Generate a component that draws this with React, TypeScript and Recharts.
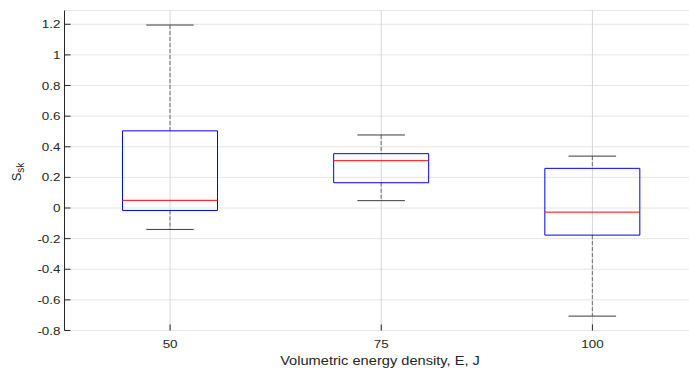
import { ComposedChart, Bar, XAxis, YAxis, CartesianGrid } from 'recharts'

const categories = ['50', '75', '100']
const whiskerLow = [-0.14, 0.048, -0.706]
const q1 = [-0.016, 0.165, -0.177]
const median = [0.05, 0.309, -0.027]
const q3 = [0.504, 0.355, 0.259]
const whiskerHigh = [1.195, 0.477, 0.339]
const yTicks = [-0.8, -0.6, -0.4, -0.2, 0, 0.2, 0.4, 0.6, 0.8, 1, 1.2]

const data = categories.map((name, i) => ({
  name,
  lowerWhisker: [whiskerLow[i], q1[i]],
  lowerBox: [q1[i], median[i]],
  upperBox: [median[i], q3[i]],
  upperWhisker: [q3[i], whiskerHigh[i]],
}))

const font = "'Liberation Sans', Arial, Helvetica, sans-serif"
const ink = '#262626'
const whiskerInk = '#6e6e6e'
const capInk = '#3c3c3c'

const PLOT_TOP = 10.5
const PLOT_BOTTOM = 330.5

// pixel extent of a ranged bar, whichever way round recharts hands it over
const span = (p: any) => {
  const top = Math.min(p.y, p.y + p.height)
  const bottom = Math.max(p.y, p.y + p.height)
  return { left: p.x, right: p.x + p.width, cx: p.x + p.width / 2, top, bottom, w: p.width }
}

const LowerWhisker = (p: any) => {
  const s = span(p)
  return (
    <g>
      <line x1={s.cx} x2={s.cx} y1={s.top} y2={s.bottom} stroke={whiskerInk} strokeDasharray="4 2" />
      <line x1={s.cx - s.w / 4} x2={s.cx + s.w / 4} y1={s.bottom} y2={s.bottom} stroke={capInk} />
    </g>
  )
}

const UpperWhisker = (p: any) => {
  const s = span(p)
  return (
    <g>
      <line x1={s.cx} x2={s.cx} y1={s.top} y2={s.bottom} stroke={whiskerInk} strokeDasharray="4 2" />
      <line x1={s.cx - s.w / 4} x2={s.cx + s.w / 4} y1={s.top} y2={s.top} stroke={capInk} />
    </g>
  )
}

// lower half of the box: sides + bottom in blue, median on top in red
const LowerBox = (p: any) => {
  const s = span(p)
  return (
    <g>
      <path d={`M${s.left},${s.top}V${s.bottom}H${s.right}V${s.top}`} fill="none" stroke="#0000ff" />
      <line x1={s.left} x2={s.right} y1={s.top} y2={s.top} stroke="#ff0000" />
    </g>
  )
}

const UpperBox = (p: any) => {
  const s = span(p)
  return <path d={`M${s.left},${s.bottom}V${s.top}H${s.right}V${s.bottom}`} fill="none" stroke="#0000ff" />
}

// inward ticks drawn by hand, label below the axis
const XTick = (props: any) => {
  const { x, payload } = props
  return (
    <g>
      <line x1={x} x2={x} y1={PLOT_BOTTOM} y2={PLOT_BOTTOM - 6} stroke={ink} />
      <text transform={`translate(${x},${PLOT_BOTTOM + 17.5}) scale(1.22,1)`} textAnchor="middle" fill={ink} fontSize={11} fontFamily={font}>
        {payload.value}
      </text>
    </g>
  )
}

const TopTick = (props: any) => {
  const { x } = props
  return <line x1={x} x2={x} y1={PLOT_TOP} y2={PLOT_TOP + 6} stroke={ink} />
}

const YTick = (props: any) => {
  const { x, y, payload } = props
  return (
    <g>
      <line x1={x} x2={x + 6} y1={y} y2={y} stroke={ink} />
      <text transform={`translate(${x - 4},${y + 4}) scale(1.22,1)`} textAnchor="end" fill={ink} fontSize={11} fontFamily={font}>
        {String(Number(Number(payload.value).toFixed(1)))}
      </text>
    </g>
  )
}

const XLabel = () => (
  <text transform="translate(380,365) scale(1.22,1)" textAnchor="middle" fill={ink} fontSize={12} fontFamily={font}>
    Volumetric energy density, E, J
  </text>
)

const YLabel = () => (
  <text transform="translate(21,172) rotate(-90)" textAnchor="middle" fill={ink} fontSize={13} fontFamily={font}>
    S<tspan fontSize={10} dy={3}>sk</tspan>
  </text>
)

export default function App() {
  return (
    <div style={{ position: 'absolute', left: 0, top: 0, width: 689, height: 371, overflow: 'hidden', background: '#fff' }}>
      <ComposedChart width={698} height={371} data={data} margin={{ top: PLOT_TOP, right: 0, bottom: 0, left: 0 }}>
        <CartesianGrid xAxisId="main" stroke="#e6e6e6" vertical={false} />
        <CartesianGrid xAxisId="main" stroke="#d6d6d6" horizontal={false} />
        <XAxis
          xAxisId="main"
          dataKey="name"
          height={371 - PLOT_BOTTOM}
          interval={0}
          tickSize={0}
          tickMargin={0}
          tick={<XTick />}
          tickLine={false}
          axisLine={{ stroke: ink }}
          label={<XLabel />}
        />
        <XAxis
          xAxisId="top"
          orientation="top"
          dataKey="name"
          height={0}
          interval={0}
          tickSize={0}
          tickMargin={0}
          tick={<TopTick />}
          tickLine={false}
          axisLine={{ stroke: ink }}
        />
        <XAxis xAxisId="h1" dataKey="name" hide />
        <XAxis xAxisId="h2" dataKey="name" hide />
        <YAxis
          type="number"
          domain={[-0.8, 1.29]}
          ticks={yTicks}
          interval={0}
          width={64.5}
          tickSize={0}
          tickMargin={0}
          tick={<YTick />}
          tickLine={false}
          axisLine={{ stroke: ink }}
          label={<YLabel />}
        />
        <Bar xAxisId="main" dataKey="lowerWhisker" barSize={95} shape={(p: any) => <LowerWhisker {...p} />} isAnimationActive={false} />
        <Bar xAxisId="top" dataKey="upperWhisker" barSize={95} shape={(p: any) => <UpperWhisker {...p} />} isAnimationActive={false} />
        <Bar xAxisId="h1" dataKey="lowerBox" barSize={95} shape={(p: any) => <LowerBox {...p} />} isAnimationActive={false} />
        <Bar xAxisId="h2" dataKey="upperBox" barSize={95} shape={(p: any) => <UpperBox {...p} />} isAnimationActive={false} />
      </ComposedChart>
    </div>
  )
}
